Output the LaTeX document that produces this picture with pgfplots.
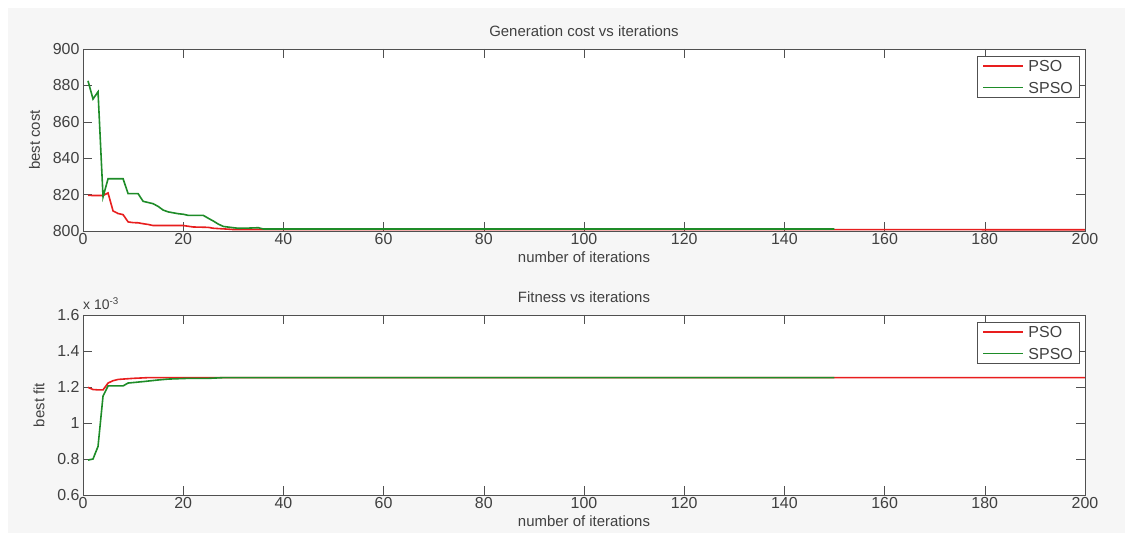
\documentclass[border=0pt]{standalone}
\usepackage{fontspec}
\setmainfont{Liberation Sans}
\usepackage{pgfplots}
\pgfplotsset{compat=1.18}

\definecolor{bg}{RGB}{246,246,246}
\definecolor{axgray}{RGB}{80,80,80}
\definecolor{txt}{RGB}{64,64,64}
\definecolor{psored}{RGB}{232,30,30}
\definecolor{spsogreen}{RGB}{30,140,40}

\newcommand{\swatch}[1]{\textcolor{#1}{\rule[0.3em]{40bp}{1.6bp}}\hspace{5bp}}

\pgfplotsset{
  mlab/.style={
    scale only axis,
    width=1002bp,
    xmin=0, xmax=200,
    xtick={0,20,...,200},
    tick align=inside,
    major tick length=9bp,
    axis line style={axgray},
    every tick/.style={axgray},
    axis background/.style={fill=white},
    tick label style={font=\fontsize{16}{19}\selectfont, text=txt},
    label style={font=\fontsize{15}{18}\selectfont, text=txt},
    title style={font=\fontsize{15}{18}\selectfont, text=txt, yshift=3bp},
    /pgf/number format/assume math mode=true,
    xticklabel style={yshift=1bp},
    ylabel style={yshift=6bp},
  },
}
\tikzset{
  leg/.style={draw=axgray, fill=white, anchor=north east, align=left,
    inner xsep=6bp, inner ysep=4bp, font=\fontsize{16}{22}\selectfont},
}

\begin{document}
\begin{tikzpicture}
\path (0bp,0bp) rectangle (1134bp,535bp);
\fill[bg] (8bp,2bp) rectangle (1125bp,527bp);

\begin{axis}[mlab, name=top,
  at={(83bp,304bp)}, anchor=south west,
  height=182bp,
  ymin=800, ymax=900,
  ytick={800,820,...,900},
  title={Generation cost vs iterations},
  xlabel={number of iterations},
  ylabel={best cost},
]
% PSO
\addplot[color=psored, line width=1.6bp] coordinates {
(1,819.6) (2,819.5) (3,819.5) (4,819.5) (5,820.9) (6,811) (7,809.6) (8,809)
(9,805) (10,804.6) (11,804.5) (12,804) (13,803.6) (14,803) (20,803)
(21,802.6) (22,802.2) (25,802) (26,801.5) (29,801) (30,800.8) (200,800.7)
};
% SPSO
\addplot[color=spsogreen, line width=1.6bp] coordinates {
(1,882.5) (2,872.5) (3,876.5) (4,818.7) (5,828.7) (8,828.7) (9,820.5)
(11,820.5) (12,816.3) (14,815) (15,813.5) (16,811.5) (17,810.5) (19,809.5)
(20,809.2) (21,808.6) (24,808.6) (25,807) (26,805.5) (27,803.8) (28,802.5)
(30,801.8) (31,801.5) (33,801.6) (35,801.8) (36,801.1) (150,801.1)
};
\end{axis}

\begin{axis}[mlab, name=bot,
  at={(83bp,40bp)}, anchor=south west,
  height=180bp,
  ymin=0.6, ymax=1.6,
  ytick={0.6,0.8,...,1.6},
  title={Fitness vs iterations},
  xlabel={number of iterations},
  ylabel={best fit},
]
% PSO
\addplot[color=psored, line width=1.6bp] coordinates {
(1,1.198) (2,1.186) (3,1.184) (4,1.184) (5,1.222) (6,1.235) (7,1.242)
(8,1.244) (10,1.248) (13,1.252) (200,1.252)
};
% SPSO
\addplot[color=spsogreen, line width=1.6bp] coordinates {
(1,0.794) (2,0.8) (3,0.87) (4,1.15) (5,1.206) (8,1.206) (9,1.222)
(12,1.23) (15,1.239) (17,1.244) (21,1.248) (25,1.248) (28,1.252) (150,1.252)
};
\end{axis}

\node[leg, text=txt] at ([xshift=-6bp,yshift=-7bp]top.north east)
  {\swatch{psored}PSO\\ \swatch{spsogreen}SPSO};
\node[leg, text=txt] at ([xshift=-6bp,yshift=-7bp]bot.north east)
  {\swatch{psored}PSO\\ \swatch{spsogreen}SPSO};

\node[anchor=base west, inner sep=0pt, text=txt, font=\fontsize{14}{16}\selectfont]
  at (83bp,225bp) {x 10\textsuperscript{-3}};
\end{tikzpicture}
\end{document}
